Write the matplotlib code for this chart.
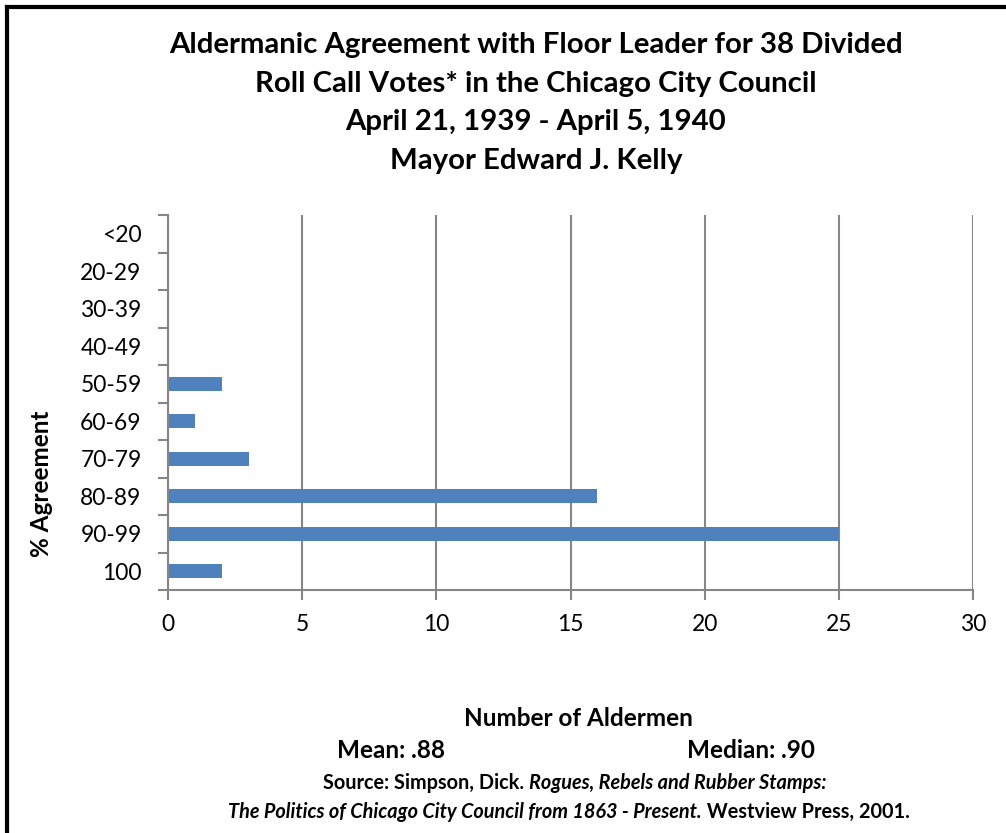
import matplotlib
matplotlib.use("Agg")
import matplotlib.pyplot as plt
from matplotlib.lines import Line2D
import numpy as np

categories = ["<20", "20-29", "30-39", "40-49", "50-59", "60-69", "70-79", "80-89", "90-99", "100"]
counts = [0, 0, 0, 0, 2, 1, 3, 16, 25, 2]
x_ticks = [0, 5, 10, 15, 20, 25, 30]

title_lines = ["Aldermanic Agreement with Floor Leader for 38 Divided",
               "Roll Call Votes* in the Chicago City Council",
               "April 21, 1939 - April 5, 1940",
               "Mayor Edward J. Kelly"]

plt.rcParams['font.family'] = ['Lato', 'DejaVu Sans']

W, H = 1006, 833
fig = plt.figure(figsize=(W / 100, H / 100), dpi=100)
fig.patch.set_facecolor('white')

def fx(px):
    return px / W

def fy(py):
    return 1 - py / H

ax = fig.add_axes([fx(168), fy(590), fx(973) - fx(168), fy(215) - fy(590)])

n = len(categories)
pos = np.arange(n)[::-1]  # top category at top
ax.barh(pos, counts, height=0.38, color='#4F81BD', zorder=3)

ax.set_xlim(0, 30)
ax.set_ylim(-0.5, n - 0.5)

grid_c = '#868686'
ax.set_xticks(x_ticks)
ax.set_xticklabels([str(t) for t in x_ticks], fontsize=16.5)
ax.xaxis.grid(True, color=grid_c, linewidth=1.5, zorder=0)
ax.tick_params(axis='x', length=7, width=1.5, color=grid_c, pad=10, direction='out')

ax.set_yticks(np.arange(-0.5, n, 1.0))
ax.set_yticklabels([])
ax.set_yticks(pos, minor=True)
ax.set_yticklabels(categories, minor=True, fontsize=16.5)
ax.tick_params(axis='y', which='major', length=7, width=1.5, color=grid_c, direction='out')
ax.tick_params(axis='y', which='minor', length=0, pad=19)

for s in ['top', 'right']:
    ax.spines[s].set_visible(False)
for s in ['left', 'bottom']:
    ax.spines[s].set_color(grid_c)
    ax.spines[s].set_linewidth(1.5)
    ax.spines[s].set_zorder(4)

# Title
for i, line in enumerate(title_lines):
    fig.text(fx(536), fy(45 + i * 38.7), line, ha='center', va='center',
             fontsize=21.2, fontweight='bold')

fig.text(fx(42), fy(484), "% Agreement", rotation=90, ha='center', va='center',
         fontsize=17.5, fontweight='bold')

fig.text(fx(578), fy(718), "Number of Aldermen", ha='center', va='center',
         fontsize=17.5, fontweight='bold')
fig.text(fx(391), fy(751), "Mean: .88", ha='center', va='center',
         fontsize=17.5, fontweight='bold')
fig.text(fx(751), fy(751), "Median: .90", ha='center', va='center',
         fontsize=17.5, fontweight='bold')

# Source lines with mixed styles
def mixed_line(y_px, parts, cx_px, size=14.3):
    r = fig.canvas.get_renderer()
    texts = []
    for txt, style in parts:
        t = fig.text(0, fy(y_px), txt, ha='left', va='center', fontsize=size,
                     fontweight='bold', fontstyle=style)
        texts.append(t)
    widths = [t.get_window_extent(renderer=r).width for t in texts]
    total = sum(widths)
    x = cx_px - total / 2
    for t, w in zip(texts, widths):
        t.set_x(fx(x))
        x += w

mixed_line(783, [("Source: Simpson, Dick. ", 'normal'),
                 ("Rogues, Rebels and Rubber Stamps:", 'italic')], 575)
mixed_line(812, [("The Politics of Chicago City Council from 1863 - Present.", 'italic'),
                 (" Westview Press, 2001.", 'normal')], 569)

# Outer border (left and top)
fig.add_artist(Line2D([fx(7), fx(7)], [fy(7), 0], color='black', linewidth=3,
                      transform=fig.transFigure))
fig.add_artist(Line2D([fx(7), 1], [fy(7), fy(7)], color='black', linewidth=3,
                      transform=fig.transFigure))

fig.savefig("out.png", dpi=100, facecolor='white')
